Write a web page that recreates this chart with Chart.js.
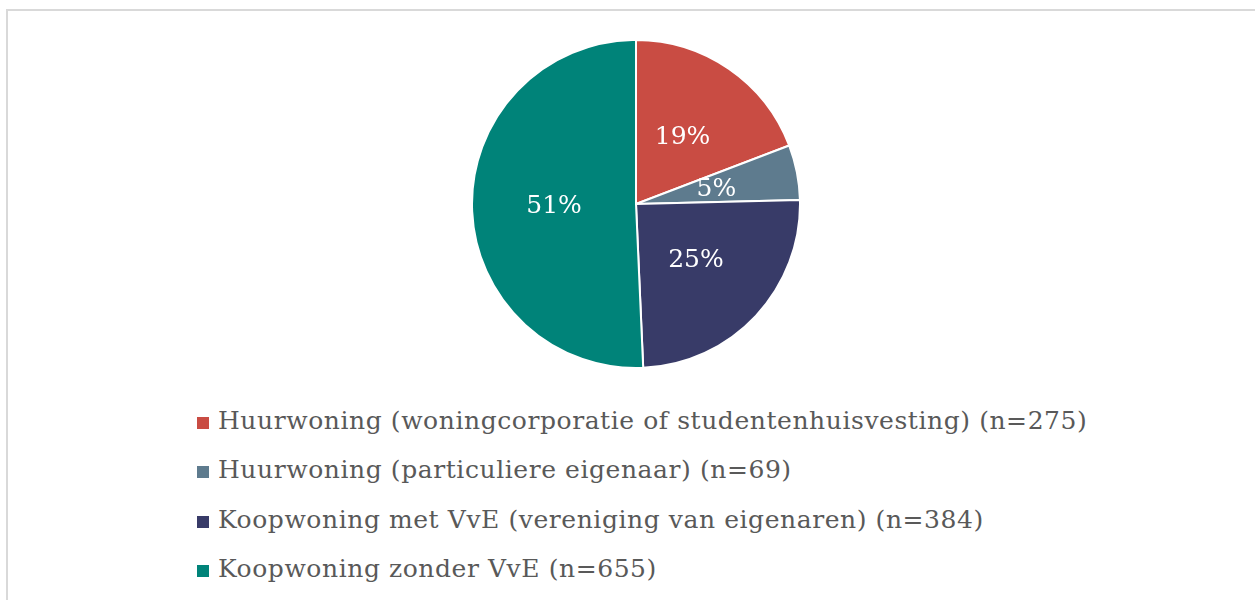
<!DOCTYPE html>
<html>
<head>
<meta charset="utf-8">
<script src="https://cdn.jsdelivr.net/npm/chart.js@4"></script>
<style>
  html, body { margin: 0; padding: 0; background: #fff; width: 1255px; height: 600px; overflow: hidden; }
  #frame { position: absolute; left: 6px; top: 9px; width: 1270px; height: 620px;
           border-top: 2px solid #d9d9d9; border-left: 2px solid #d9d9d9; }
  #pieWrap { position: absolute; left: 471px; top: 39px; width: 330px; height: 330px; }
  #legend { position: absolute; left: 197px; top: 396px; font-family: "DejaVu Serif", serif;
            font-size: 25px; letter-spacing: 0.57px; color: #595959; }
  #legend .row { line-height: 49.3px; white-space: nowrap; }
  #legend .sw { display: inline-block; width: 12px; height: 12px; margin-right: 9px; vertical-align: baseline; }
</style>
</head>
<body>
<div id="frame"></div>
<div id="pieWrap"><canvas id="pieChart"></canvas></div>
<div id="legend"></div>
<script>
const categories = [
  'Huurwoning (woningcorporatie of studentenhuisvesting)',
  'Huurwoning (particuliere eigenaar)',
  'Koopwoning met VvE (vereniging van eigenaren)',
  'Koopwoning zonder VvE'
];
const counts = [275, 69, 384, 655];
// share of each slice in percent
const shares = [19.2, 5.4, 24.7, 50.7];
const colors = ['#C94C43', '#5E7B8E', '#383B68', '#008379'];

// legend as plain html, one row per category
const legendEl = document.getElementById('legend');
categories.forEach((c, i) => {
  const row = document.createElement('div');
  row.className = 'row';
  const sw = document.createElement('span');
  sw.className = 'sw';
  sw.style.background = colors[i];
  row.appendChild(sw);
  row.appendChild(document.createTextNode(c + ' (n=' + counts[i] + ')'));
  legendEl.appendChild(row);
});

// percentage labels in the middle of every slice
const sliceLabels = {
  id: 'sliceLabels',
  afterDatasetsDraw(chart) {
    const ctx = chart.ctx;
    const meta = chart.getDatasetMeta(0);
    ctx.save();
    ctx.fillStyle = '#ffffff';
    ctx.font = '25px "DejaVu Serif", serif';
    ctx.textAlign = 'center';
    ctx.textBaseline = 'middle';
    meta.data.forEach((arc, i) => {
      const p = arc.tooltipPosition();
      ctx.fillText(Math.round(shares[i]) + '%', p.x, p.y + 1);
    });
    ctx.restore();
  }
};

const pctx = document.getElementById('pieChart').getContext('2d');
const pieChart = new Chart(pctx, {
  type: 'pie',
  data: {
    labels: categories,
    datasets: [{
      data: shares,
      backgroundColor: colors,
      borderColor: '#ffffff',
      borderWidth: 2
    }]
  },
  options: {
    responsive: true,
    maintainAspectRatio: false,
    animation: false,
    layout: { padding: 0 },
    plugins: {
      legend: { display: false },
      tooltip: { enabled: false }
    }
  },
  plugins: [sliceLabels]
});
</script>
</body>
</html>
